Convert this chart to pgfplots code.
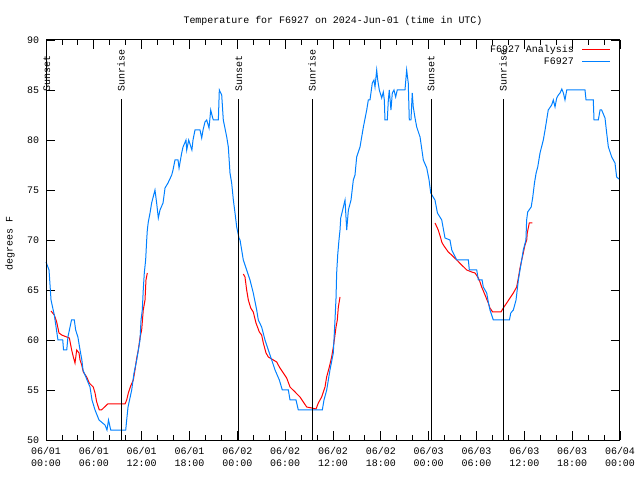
\documentclass[border=0pt]{standalone}
\usepackage{fontspec}
\setmainfont{Liberation Mono}
\usepackage{pgfplots}
\pgfplotsset{compat=1.18}
\definecolor{gpblue}{RGB}{0,128,255}
\definecolor{gpred}{RGB}{255,0,0}
\begin{document}
\begin{tikzpicture}[font=\fontsize{10}{12}\selectfont]
\useasboundingbox (0,0) rectangle (640bp,480bp);
\node[anchor=base] at (333bp,456.7bp) {Temperature for F6927 on 2024-Jun-01 (time in UTC)};
\node[rotate=90] at (10bp,236.5bp) {degrees F};
\begin{axis}[
  at={(46bp,40bp)}, anchor=south west,
  scale only axis, width=574bp, height=400bp,
  xmin=0, xmax=72, ymin=50, ymax=90,
  clip=false,
  xtick={0,6,...,72},
  xticklabels={{06/01\\00:00},{06/01\\06:00},{06/01\\12:00},{06/01\\18:00},{06/02\\00:00},{06/02\\06:00},{06/02\\12:00},{06/02\\18:00},{06/03\\00:00},{06/03\\06:00},{06/03\\12:00},{06/03\\18:00},{06/04\\00:00}},
  minor x tick num=2,
  ytick={50,55,...,90},
  tick align=inside,
  major tick length=9bp, minor tick length=5bp,
  axis line style={line width=1bp},
  every tick/.style={black, line width=0.8bp},
  x tick label style={align=center, font=\fontsize{10}{12}\selectfont, yshift=-4bp},
  y tick label style={xshift=-3.5bp},
  /pgf/number format/assume math mode=true,
  unbounded coords=jump,
]
\addplot[gpred, line width=1bp, forget plot] coordinates {
(0.63,62.9) (1.04,62.5) (1.34,61.8) (1.63,60.7) (1.97,60.5) (2.6,60.3) (2.93,60.2) (3.22,59.0) (3.43,58.3) (3.64,57.7) (3.85,59.0) (4.14,58.7) (4.27,58.0) (4.48,57.5) (4.68,56.8) (5.1,56.3) (5.43,55.7) (5.93,55.3) (6.15,54.7) (6.36,53.8) (6.69,53.0) (6.95,53.0) (7.74,53.6) (9.91,53.6) (10.12,54.0) (10.33,54.7) (10.62,55.4) (10.95,56.0) (11.16,57.0) (11.38,58.2) (11.58,59.0) (11.79,60.2) (12.0,61.0) (12.2,63.0) (12.42,64.0) (12.54,66.0) (12.71,66.7)
(13,nan)
(24.75,66.6) (24.96,66.3) (25.17,65.0) (25.38,64.0) (25.68,63.2) (26.0,62.8) (26.34,61.7) (26.76,60.8) (27.05,60.5) (27.26,59.7) (27.6,58.7) (27.89,58.3) (28.31,58.1) (28.94,57.8) (29.27,57.3) (29.77,56.7) (30.19,56.2) (30.61,55.3) (31.24,54.8) (31.86,54.3) (32.28,53.8) (32.7,53.3) (33.33,53.2) (33.87,53.1) (34.16,53.7) (34.58,54.3) (35.0,55.3) (35.2,56.3) (35.54,57.3) (35.83,58.3) (36.04,59.3) (36.25,60.5) (36.38,61.3) (36.54,62.0) (36.67,63.3) (36.88,64.3)
(40,nan)
(48.8,71.7) (49.2,71.0) (49.51,70.2) (49.64,69.8) (49.84,69.5) (50.46,68.8) (50.88,68.5) (51.52,68.0) (52.14,67.5) (52.78,67.0) (53.4,66.8) (53.82,66.7) (54.23,66.2) (54.44,65.8) (54.65,65.3) (55.07,64.5) (55.48,63.7) (55.69,63.2) (56.03,62.8) (57.07,62.8) (57.36,63.2) (57.79,63.7) (58.2,64.2) (58.62,64.7) (59.04,65.3) (59.25,66.2) (59.46,67.2) (59.67,68.0) (59.87,68.7) (60.08,69.5) (60.3,70.0) (60.37,70.7) (60.62,71.7) (61.0,71.7)
};
\addplot[gpblue, line width=1bp, forget plot] coordinates {
(0.0,67.8) (0.38,67.0) (0.63,64.0) (1.04,62.5) (1.5,60.0) (2.1,60.0) (2.2,59.0) (2.6,59.0) (2.75,60.3) (3.2,62.0) (3.55,62.0) (3.72,61.0) (4.0,60.3) (4.27,59.0) (4.5,58.0) (4.64,57.0) (5.15,56.0) (5.52,55.3) (5.77,54.0) (6.15,53.0) (6.65,52.0) (7.4,51.5) (7.65,51.0) (7.84,52.0) (8.12,51.0) (10.0,51.0) (10.12,52.0) (10.29,53.3) (10.75,55.0) (11.04,56.7) (11.38,58.0) (11.79,60.0) (11.92,62.0) (12.08,63.0) (12.2,65.0) (12.33,66.7) (12.5,68.0) (12.63,70.0) (12.71,71.0) (12.83,71.8) (13.05,72.7) (13.25,73.7) (13.67,75.0) (13.88,73.7) (14.09,72.2) (14.3,73.0) (14.68,73.7) (14.93,75.2) (15.3,75.7) (15.77,76.5) (15.93,77.0) (16.18,78.0) (16.56,78.0) (16.69,77.2) (17.02,78.7) (17.19,79.3) (17.56,80.0) (17.65,79.0) (17.9,80.0) (18.3,79.0) (18.44,80.0) (18.69,81.0) (19.32,81.0) (19.53,80.2) (19.7,81.0) (19.94,81.8) (20.16,82.0) (20.45,81.2) (20.66,83.0) (20.91,82.2) (21.0,82.0) (21.62,82.0) (21.74,85.0) (22.04,84.5) (22.24,82.0) (22.67,80.3) (22.87,79.3) (23.08,76.7) (23.29,75.7) (23.5,74.0) (23.71,72.7) (23.92,71.3) (24.21,70.2) (24.34,70.0) (24.75,68.0) (25.17,67.0) (25.59,66.0) (26.0,64.7) (26.43,63.0) (26.63,62.0) (27.05,61.3) (27.47,60.0) (27.89,59.0) (28.31,58.0) (28.73,57.0) (29.27,56.0) (29.64,55.0) (30.4,55.0) (30.61,54.0) (31.36,54.0) (31.65,53.0) (34.66,53.0) (34.87,54.0) (35.21,55.0) (35.62,57.0) (36.04,58.7) (36.25,62.0) (36.38,64.2) (36.46,66.7) (36.59,68.5) (36.75,70.0) (36.88,71.0) (36.97,72.2) (37.3,73.3) (37.51,74.0) (37.72,71.0) (37.93,73.0) (38.26,74.0) (38.55,76.0) (38.76,76.5) (38.97,78.3) (39.39,79.3) (39.81,81.3) (40.23,83.0) (40.43,84.0) (40.64,84.0) (40.93,85.7) (41.14,86.0) (41.27,85.3) (41.48,87.0) (41.61,86.0) (41.81,85.0) (42.11,84.2) (42.31,84.8) (42.44,84.0) (42.52,82.0) (42.81,82.0) (42.94,84.0) (43.06,85.0) (43.27,83.0) (43.44,84.7) (43.65,85.0) (43.86,84.3) (44.06,85.0) (45.03,85.0) (45.24,87.0) (45.44,85.7) (45.57,82.0) (45.78,82.0) (45.94,84.7) (46.07,83.3) (46.29,82.2) (46.5,81.3) (46.92,80.3) (47.33,78.0) (47.76,77.2) (48.05,76.0) (48.26,74.7) (48.79,74.0) (49.1,72.7) (49.64,72.0) (50.05,70.2) (50.67,70.0) (50.9,69.0) (51.52,68.0) (52.98,68.0) (53.1,67.0) (54.03,67.0) (54.23,66.0) (54.7,66.0) (54.85,65.3) (55.28,64.7) (55.48,63.8) (55.69,63.0) (56.11,62.0) (58.13,62.0) (58.3,62.7) (58.62,63.0) (58.96,64.0) (59.25,66.0) (59.46,67.0) (59.67,68.0) (59.87,69.0) (60.2,70.0) (60.29,72.0) (60.42,72.8) (60.86,73.3) (61.06,74.3) (61.27,75.7) (61.48,76.7) (61.68,77.3) (61.97,78.7) (62.38,80.0) (62.6,81.0) (62.8,82.0) (63.0,83.0) (63.43,83.5) (63.64,84.0) (63.85,83.3) (64.06,84.2) (64.27,84.5) (64.48,84.7) (64.7,85.1) (64.9,84.7) (65.1,84.0) (65.32,85.0) (67.61,85.0) (67.74,84.0) (68.65,84.0) (68.74,82.0) (69.28,82.0) (69.5,83.0) (69.7,83.0) (70.12,82.2) (70.33,80.7) (70.54,79.3) (70.96,78.3) (71.37,77.7) (71.58,76.3) (71.87,76.1)
};
% legend samples
\addplot[gpred, line width=1bp, forget plot] coordinates {(67.24,89.0) (70.75,89.0)};
\addplot[gpblue, line width=1bp, forget plot] coordinates {(67.24,87.8) (70.75,87.8)};
\node[anchor=mid east, inner sep=0pt] at (axis cs:66.23,89.0) {F6927 Analysis};
\node[anchor=mid east, inner sep=0pt] at (axis cs:66.23,87.8) {F6927};
% sunrise / sunset markers
\addplot[black, line width=1bp, forget plot] coordinates {(0.12,50) (0.12,84.1)};
\addplot[black, line width=1bp, forget plot] coordinates {(9.41,50) (9.41,84.1)};
\addplot[black, line width=1bp, forget plot] coordinates {(24.2,50) (24.2,84.1)};
\addplot[black, line width=1bp, forget plot] coordinates {(33.37,50) (33.37,84.1)};
\addplot[black, line width=1bp, forget plot] coordinates {(48.3,50) (48.3,84.1)};
\addplot[black, line width=1bp, forget plot] coordinates {(57.33,50) (57.33,84.1)};
\node[rotate=90, anchor=west, inner sep=0pt] at (axis cs:0.12,84.8) {Sunset};
\node[rotate=90, anchor=west, inner sep=0pt] at (axis cs:9.41,84.8) {Sunrise};
\node[rotate=90, anchor=west, inner sep=0pt] at (axis cs:24.2,84.8) {Sunset};
\node[rotate=90, anchor=west, inner sep=0pt] at (axis cs:33.37,84.8) {Sunrise};
\node[rotate=90, anchor=west, inner sep=0pt] at (axis cs:48.3,84.8) {Sunset};
\node[rotate=90, anchor=west, inner sep=0pt] at (axis cs:57.33,84.8) {Sunrise};
\end{axis}
\end{tikzpicture}
\end{document}
